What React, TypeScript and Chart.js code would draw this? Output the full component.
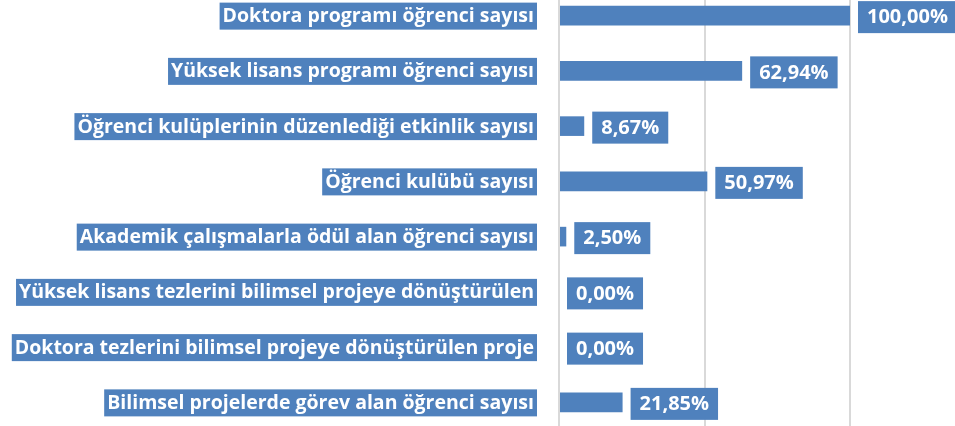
import React, { useEffect, useRef } from "react";
import { Chart, registerables } from "chart.js";

Chart.register(...registerables);

const categories = [
  "Doktora programı öğrenci sayısı",
  "Yüksek lisans programı öğrenci sayısı",
  "Öğrenci kulüplerinin düzenlediği etkinlik sayısı",
  "Öğrenci kulübü sayısı",
  "Akademik çalışmalarla ödül alan öğrenci sayısı",
  "Yüksek lisans tezlerini bilimsel projeye dönüştürülen",
  "Doktora tezlerini bilimsel projeye dönüştürülen proje",
  "Bilimsel projelerde görev alan öğrenci sayısı",
];

const values = [100, 62.94, 8.67, 50.97, 2.5, 0, 0, 21.85];

const xTickValues = [0, 50, 100];

const BLUE = "#4F81BD";
const LABEL_FONT = "bold 19.5px 'Open Sans', sans-serif";
const VALUE_FONT = "bold 20px 'Open Sans', sans-serif";

const fmt = (v: number) => v.toFixed(2).replace(".", ",") + "%";

const boxLabelsPlugin = {
  id: "boxLabels",
  afterDatasetsDraw(chart: any) {
    const ctx = chart.ctx;
    const yScale = chart.scales.y;
    const xScale = chart.scales.x;
    const area = chart.chartArea;
    ctx.save();
    ctx.textBaseline = "middle";
    // category labels
    ctx.font = LABEL_FONT;
    categories.forEach((label, i) => {
      const y = yScale.getPixelForValue(i);
      const right = area.left - 22;
      const w = ctx.measureText(label).width;
      const padX = 3;
      const h = 27;
      ctx.fillStyle = BLUE;
      ctx.fillRect(right - w - padX * 2, y - h / 2 + 0.5, w + padX * 2, h);
      ctx.fillStyle = "#ffffff";
      ctx.textAlign = "right";
      ctx.fillText(label, right - padX, y + 1);
    });
    // value labels
    ctx.font = VALUE_FONT;
    values.forEach((v, i) => {
      const y = yScale.getPixelForValue(i);
      const x = xScale.getPixelForValue(v) + 8;
      const text = fmt(v);
      const w = ctx.measureText(text).width;
      const padX = 9;
      const h = 32;
      ctx.fillStyle = BLUE;
      ctx.fillRect(x, y - h / 2 + 1.5, w + padX * 2, h);
      ctx.fillStyle = "#ffffff";
      ctx.textAlign = "left";
      ctx.fillText(text, x + padX, y + 2);
    });
    ctx.restore();
  },
};

export default function App() {
  const canvasRef = useRef<HTMLCanvasElement | null>(null);

  useEffect(() => {
    const canvas = canvasRef.current;
    if (!canvas) return;
    const chart = new Chart(canvas, {
      type: "bar",
      data: {
        labels: categories,
        datasets: [
          {
            data: values,
            backgroundColor: BLUE,
            borderWidth: 0,
            barPercentage: 0.355,
            categoryPercentage: 1,
          },
        ],
      },
      options: {
        indexAxis: "y",
        responsive: false,
        animation: false,
        devicePixelRatio: 1,
        layout: { padding: { left: 559, right: 0, top: 5, bottom: 13 } },
        plugins: {
          legend: { display: false },
          tooltip: { enabled: false },
        },
        scales: {
          x: {
            type: "linear",
            min: 0,
            max: (955 - 559) / 2.91,
            afterBuildTicks: (scale: any) => {
              scale.ticks = xTickValues.map((v) => ({ value: v }));
            },
            ticks: { display: false },
            grid: { color: "#d9d9d9", lineWidth: 2, drawTicks: false },
            border: { display: false },
          },
          y: {
            type: "category",
            display: false,
          },
        },
      },
      plugins: [boxLabelsPlugin],
    });
    return () => chart.destroy();
  }, []);

  return (
    <div
      style={{
        position: "fixed",
        left: 0,
        top: 0,
        width: 955,
        height: 426,
        overflow: "hidden",
        background: "#ffffff",
      }}
    >
      <canvas
        ref={canvasRef}
        width={955}
        height={460}
        style={{ position: "absolute", left: 0, top: -17, width: 955, height: 460 }}
      />
    </div>
  );
}
